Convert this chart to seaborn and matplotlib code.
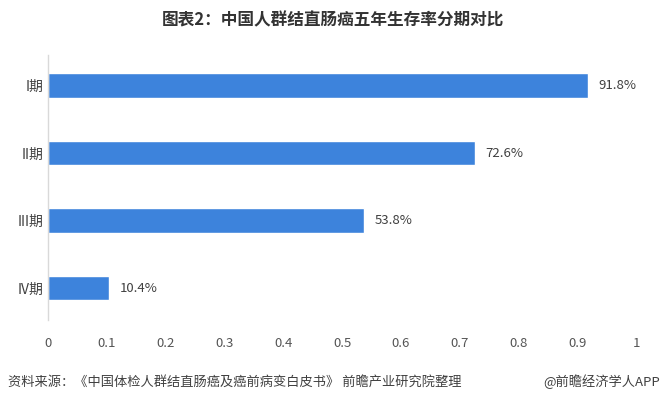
import matplotlib
matplotlib.use('Agg')
import matplotlib.pyplot as plt
import seaborn as sns
import pandas as pd

# data
stages = ['I期', 'II期', 'III期', 'IV期']
survival = [0.918, 0.726, 0.538, 0.104]
xticks = [0, 0.1, 0.2, 0.3, 0.4, 0.5, 0.6, 0.7, 0.8, 0.9, 1]

sns.set_theme(style='white')
plt.rcParams['font.family'] = ['Noto Sans CJK SC', 'DejaVu Sans']

df = pd.DataFrame({'stage': stages, 'rate': survival})

fig = plt.figure(figsize=(6.63, 4.01), dpi=100)
ax = fig.add_axes([48 / 663, 1 - 320 / 401, 588 / 663, 265 / 401])

sns.barplot(data=df, x='rate', y='stage', orient='h', color='#3d83dc',
            saturation=1, width=0.36, ax=ax)

for i, v in enumerate(survival):
    ax.text(v + 0.018, i, f'{v * 100:.1f}%', va='center', ha='left',
            fontsize=9.5, color='#404040')

ax.set_xlim(0, 1)
ax.set_ylim(3.47, -0.45)
ax.set_xticks(xticks)
ax.set_xticklabels([f'{t:g}' for t in xticks])
ax.set_xlabel('')
ax.set_ylabel('')
ax.tick_params(axis='x', length=0, labelsize=9.5, labelcolor='#555555', pad=12)
ax.tick_params(axis='y', length=0, labelsize=10, labelcolor='#404040', pad=3)

for side in ['top', 'right', 'bottom']:
    ax.spines[side].set_visible(False)
ax.spines['left'].set_color('#d9d9d9')
ax.spines['left'].set_linewidth(1)

fig.text(333 / 663, 1 - 20 / 401, '图表2：中国人群结直肠癌五年生存率分期对比', ha='center',
         va='center', fontsize=12, fontweight='bold', color='#333333')
fig.text(8 / 663, 1 - 382 / 401, '资料来源：《中国体检人群结直肠癌及癌前病变白皮书》 前瞻产业研究院整理',
         ha='left', va='center', fontsize=9.5, color='#404040')
fig.text(660 / 663, 1 - 382 / 401, '@前瞻经济学人APP', ha='right', va='center',
         fontsize=9.5, color='#404040')

fig.savefig('out.png', dpi=100)
